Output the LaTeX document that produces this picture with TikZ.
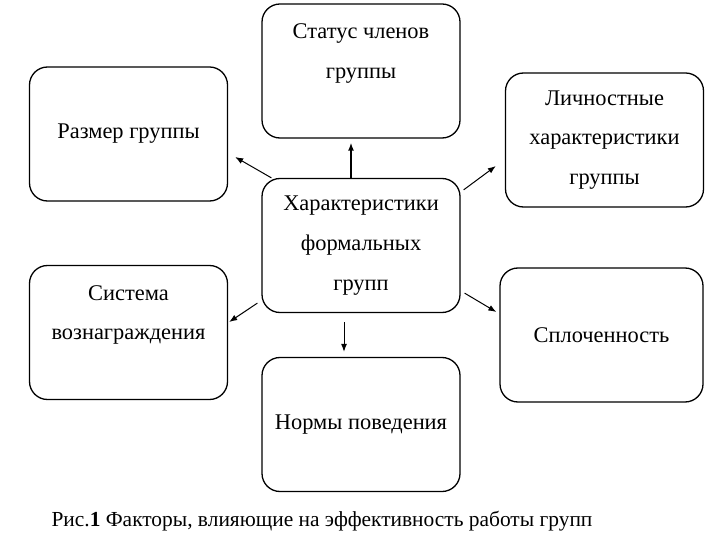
\documentclass[tikz,border=0pt]{standalone}
\usepackage{fontspec}
\setmainfont{Liberation Serif}
\usetikzlibrary{arrows.meta}
\tikzset{
  factor/.style={draw, line width=1.3bp, rounded corners=18bp, minimum width=198bp,
    minimum height=134bp, inner sep=0pt, align=center, font=\fontsize{22.5}{40}\selectfont},
  flecha/.style={-{Latex[length=8bp,width=6bp]}, line width=1bp}
}
\begin{document}
\begin{tikzpicture}[x=1bp,y=-1bp]
        \useasboundingbox (0,0) rectangle (720,540);
        % Caja central
        \node[factor] (c) at (361,245.5) {Характеристики\\формальных\\групп};
        % Cajas alrededor
        \node[factor] (t) at (361,71) {Статус членов\\группы\\ \mbox{}};
        \node[factor] (r) at (128.5,134) {Размер группы};
        \node[factor] (l) at (604.5,140) {Личностные\\характеристики\\группы};
        \node[factor] (s) at (128.5,332.5) {Система\\вознаграждения\\ \mbox{}};
        \node[factor, minimum width=203bp] (sp) at (601.5,335) {Сплоченность};
        \node[factor] (n) at (361,424.5) {Нормы поведения};
        % Flechas
        \draw[flecha, line width=1.8bp] ([xshift=-10bp]c.north) -- ([xshift=-10bp,yshift=-4bp]t.south);
        \draw[flecha] ([xshift=10bp]c.north west) -- ([xshift=7bp,yshift=-23bp]r.east);
        \draw[flecha] ([xshift=3bp,yshift=-12bp]c.north east) -- ([xshift=-9bp,yshift=-26bp]l.west);
        \draw[flecha] ([xshift=-4bp,yshift=10bp]c.south west) -- ([xshift=1bp,yshift=10.5bp]s.east);
        \draw[flecha] ([xshift=4bp,yshift=20bp]c.south east) -- ([xshift=-3bp,yshift=23bp]sp.west);
        \draw[flecha] ([xshift=-17bp,yshift=-9bp]c.south) -- ([xshift=-17bp,yshift=5bp]n.north);
        % Pie de figura
        \node[right, font=\fontsize{21.5}{24}\selectfont] (pie) at (48,521) {Рис.\textbf{1} Факторы, влияющие на эффективность работы групп};
    \end{tikzpicture}
\end{document}
